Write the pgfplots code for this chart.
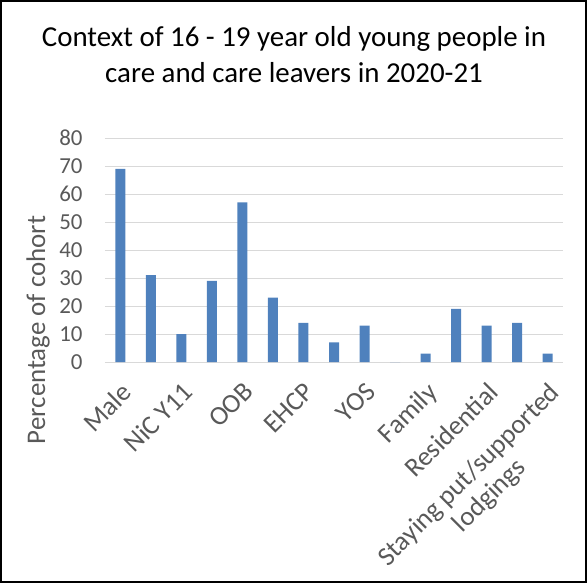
\documentclass[border=0pt]{standalone}
\usepackage{fontspec}
\setmainfont{Carlito}
\usepackage{pgfplots}
\pgfplotsset{compat=1.18}
\definecolor{barblue}{HTML}{4F81BD}
\definecolor{gridgray}{HTML}{D9D9D9}
\definecolor{textgray}{HTML}{595959}
\begin{document}
\begin{tikzpicture}[x=1bp,y=1bp]
\useasboundingbox (-105,-221) rectangle (482,362);
\draw[line width=2bp] (-104,-220) rectangle (481,361);
% title, two lines
\node[anchor=base,font=\fontsize{29}{35}\selectfont] at (189,315) {Context of 16 - 19 year old young people in};
\node[anchor=base,font=\fontsize{29}{35}\selectfont] at (189,279) {care and care leavers in 2020-21};
\begin{axis}[
    at={(0,0)}, anchor=south west,
    scale only axis,
    width=458bp, height=224bp,
    ybar, bar width=10bp,
    xmin=-0.5, xmax=14.5,
    ymin=0, ymax=80,
    ytick={0,10,...,80},
    xtick={0,...,14},
    xticklabels={Male,,NiC Y11,,OOB,,EHCP,,YOS,,Family,,Residential,,{Staying put/supported\\lodgings}},
    x tick label style={xshift=0bp, yshift=-14bp, font=\fontsize{27}{29}\selectfont, text=textgray, rotate=45, anchor=north east, align=center},
    y tick label style={font=\fontsize{23}{25}\selectfont, text=textgray, xshift=-19bp},
    /pgf/number format/assume math mode=true,
    ylabel={Percentage of cohort},
    ylabel style={font=\fontsize{27}{29}\selectfont, text=textgray, at={(axis description cs:-0.146,0.143)}, anchor=center, rotate=0},
    major tick length=0pt,
    axis x line*=bottom, axis y line*=left,
    y axis line style={draw=none},
    x axis line style={draw=gridgray, line width=1bp, -},
    ymajorgrids, grid style={draw=gridgray, line width=1bp},
]
\addplot[fill=barblue, draw=none] coordinates {
    (0,69) (1,31) (2,10) (3,29) (4,57) (5,23) (6,14) (7,7)
    (8,13) (9,0) (10,3) (11,19) (12,13) (13,14) (14,3)
};
\end{axis}
\end{tikzpicture}
\end{document}
